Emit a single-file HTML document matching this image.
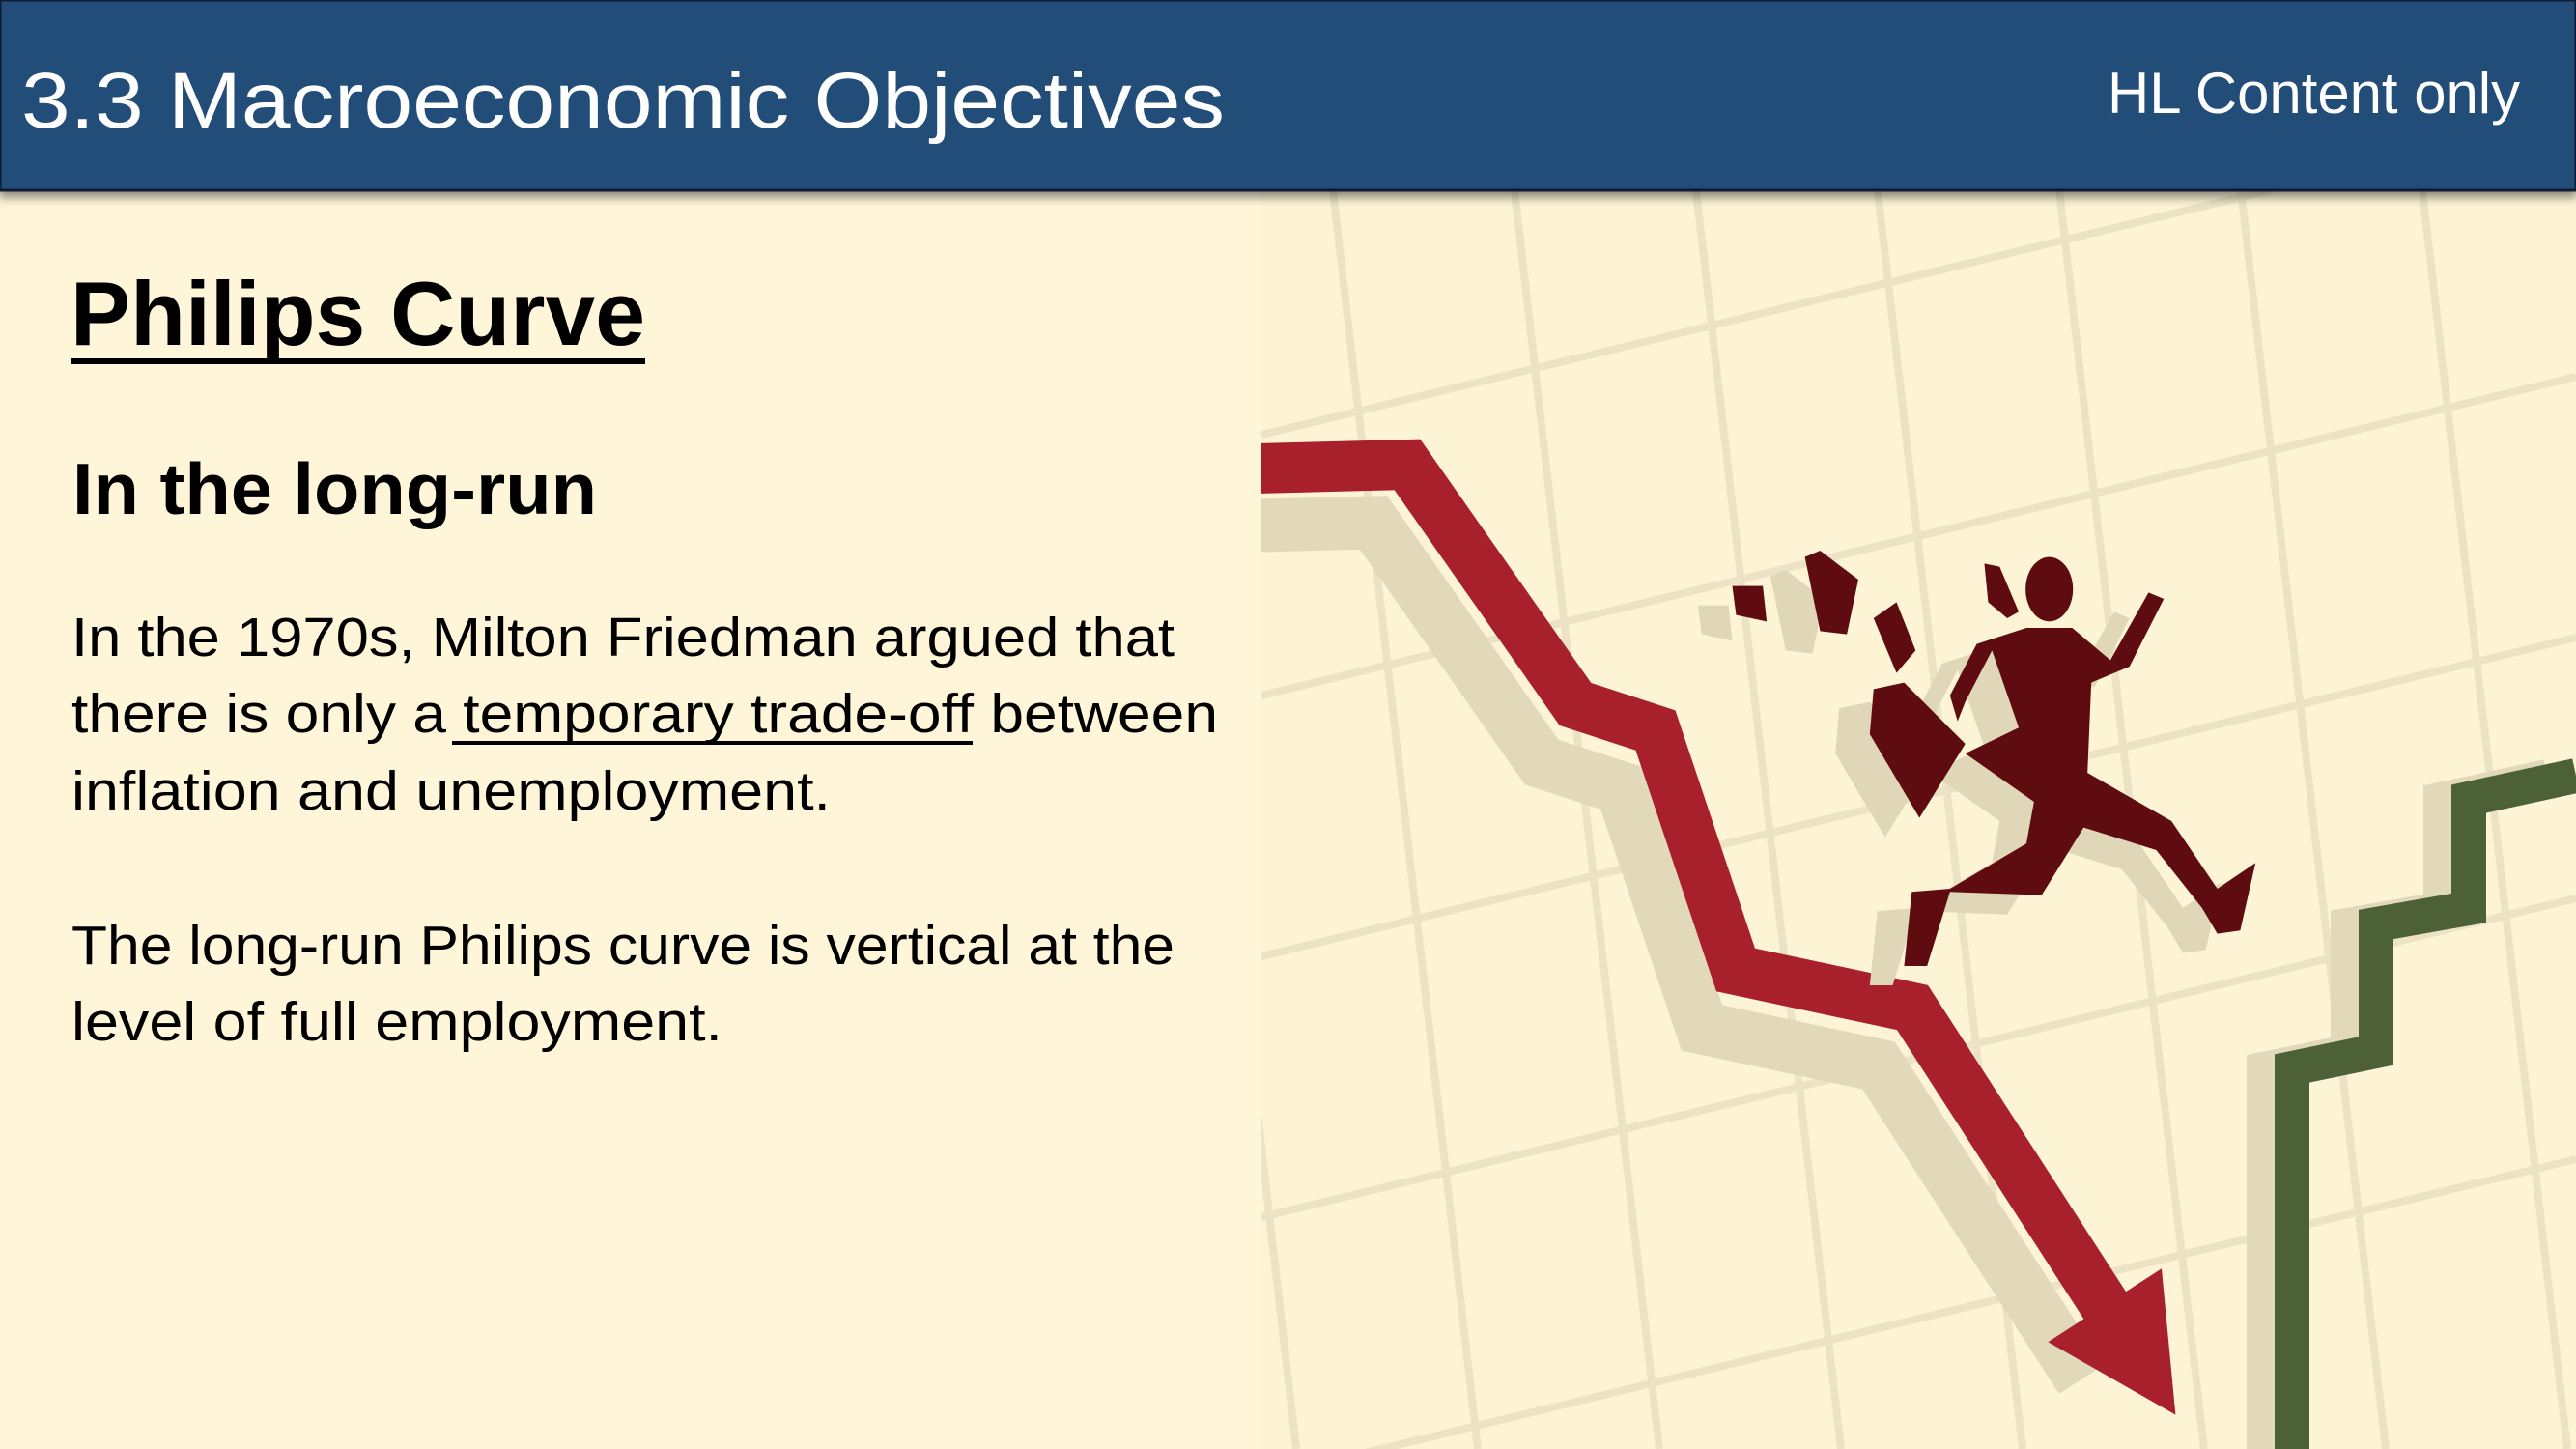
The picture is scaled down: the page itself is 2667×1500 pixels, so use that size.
<!DOCTYPE html>
<html><head><meta charset="utf-8"><style>
html,body{margin:0;padding:0;width:2667px;height:1500px;overflow:hidden;background:#fff5d9;position:relative;}
svg{display:block;position:absolute;left:0;top:0;}
text{font-family:"Liberation Sans",sans-serif;}
</style></head><body>
<svg width="2667" height="1500" viewBox="0 0 2667 1500" overflow="hidden">
<defs>
<filter id="sh" x="-5%" y="-20%" width="110%" height="160%"><feDropShadow dx="0" dy="6" stdDeviation="5" flood-color="#000" flood-opacity="0.45"/></filter>
<clipPath id="pc"><rect x="1306" y="197" width="1361" height="1303"/></clipPath>
</defs>
<rect x="0" y="0" width="2667" height="1500" fill="#fff5d9"/>

<g clip-path="url(#pc)">
<rect x="1306" y="197" width="1361" height="1303" fill="#fdf4d6"/>
<g id="grid"></g>
<g id="lines"></g>
<g transform="translate(1750,540) scale(0.3954,0.3333)">
<g fill="#e0d6b8" transform="translate(-90,60)">
<polygon points="880,330 1000,330 1100,430 1200,220 1240,240 1150,450 1050,500 1040,780 1260,930 1380,1140 1480,1060 1440,1270 1380,1280 1340,1200 1220,1020 1030,950 920,1160 680,1150 620,1380 560,1380 580,1150 680,1140 880,1000 900,870 720,720 860,640 790,400 720,560 700,620 680,540 750,380"/>
<polygon points="480,520 560,500 720,690 600,920 470,660"/>
<polygon points="110,200 190,200 200,310 120,290"/><polygon points="300,110 340,90 440,180 410,350 340,340"/>
</g>
<g fill="#5e0c0f">
<ellipse cx="940" cy="210" rx="62" ry="100"/>
<polygon points="770,130 810,140 860,280 830,300 780,250"/>
<polygon points="880,330 1000,330 1100,430 1200,220 1240,240 1150,450 1050,500 1040,780 1260,930 1380,1140 1480,1060 1440,1270 1380,1280 1340,1200 1220,1020 1030,950 920,1160 680,1150 620,1380 560,1380 580,1150 680,1140 880,1000 900,870 720,720 860,640 790,400 720,560 700,620 680,540 750,380"/>
<polygon points="480,520 560,500 720,690 600,920 470,660"/>
<polygon points="110,200 190,200 200,310 120,290"/>
<polygon points="300,110 340,90 440,180 410,350 340,340"/>
<polygon points="480,300 540,250 590,400 540,470"/>
</g>
</g>
</g>

<rect x="0" y="0" width="2667" height="197" fill="#224e78" stroke="#0d1e30" stroke-width="3" filter="url(#sh)"/>
<text x="22" y="132" font-size="82" fill="#fff" textLength="1246" lengthAdjust="spacingAndGlyphs">3.3 Macroeconomic Objectives</text>
<text x="2182" y="117" font-size="60" fill="#fff" textLength="427" lengthAdjust="spacingAndGlyphs">HL Content only</text>

<text x="73" y="357" font-size="94" font-weight="bold" fill="#000" textLength="595" lengthAdjust="spacingAndGlyphs">Philips Curve</text>
<rect x="73" y="371" width="595" height="6" fill="#000"/>
<text x="75" y="532" font-size="75" font-weight="bold" fill="#000" textLength="543" lengthAdjust="spacingAndGlyphs">In the long-run</text>

<g font-size="57" fill="#000">
<text x="74" y="679" textLength="1142" lengthAdjust="spacingAndGlyphs">In the 1970s, Milton Friedman argued that</text>
<text x="74" y="758" textLength="1187" lengthAdjust="spacingAndGlyphs">there is only a temporary trade-off between</text>
<text x="74" y="838" textLength="786" lengthAdjust="spacingAndGlyphs">inflation and unemployment.</text>
<text x="74" y="998" textLength="1142" lengthAdjust="spacingAndGlyphs">The long-run Philips curve is vertical at the</text>
<text x="74" y="1077" textLength="674" lengthAdjust="spacingAndGlyphs">level of full employment.</text>
</g>
<rect x="468" y="767" width="539" height="4" fill="#000"/>
</svg>
<script>
const redX=[1300,1457,1631,1714,1797,1980,2190];
const redY=[485,481,729,756,1004,1043,1368];
const greenX=[2373,2373,2460,2460,2556,2556,2667];
const greenY=[1500,1106,1088,957,940,827,803];
const NS="http://www.w3.org/2000/svg";
const grid=document.getElementById('grid');
for(let i=-1;i<7;i++){
  const x0=1380+i*188;
  const l=document.createElementNS(NS,'line');
  l.setAttribute('x1',x0);l.setAttribute('y1',197);l.setAttribute('x2',x0+150);l.setAttribute('y2',1500);
  l.setAttribute('stroke','#ece3c6');l.setAttribute('stroke-width','8');
  
  
  grid.appendChild(l);
}
for(let i=0;i<5;i++){
  const y0=450+i*270;
  const l=document.createElementNS(NS,'line');
  l.setAttribute('x1',1306);l.setAttribute('y1',y0);l.setAttribute('x2',2667);l.setAttribute('y2',y0-330);
  l.setAttribute('stroke','#ece3c6');l.setAttribute('stroke-width','8');
  
  
  grid.appendChild(l);
}
const g=document.getElementById('lines');
function pts(xs,ys,dx,dy){return xs.map((x,i)=>(x+dx)+','+(ys[i]+dy)).join(' ');}
function poly(xs,ys,dx,dy,col,w,name){
  const p=document.createElementNS(NS,'polyline');
  p.setAttribute('points',pts(xs,ys,dx,dy));
  p.setAttribute('fill','none');p.setAttribute('stroke',col);p.setAttribute('stroke-width',w);
  p.setAttribute('stroke-linejoin','miter');
  
  
  g.appendChild(p);
}
poly(redX,redY,-35,60,'#e2d8ba',55,'red-line-shadow');
poly(greenX,greenY,-30,0,'#e2d8ba',34,'green-line-shadow');
poly(redX,redY,0,0,'#a8212a',52,'falling-red-line');
poly(greenX,greenY,0,0,'#4c6138',36,'rising-green-line');
const n=redX.length-1;
const ax=redX[n],ay=redY[n],bx=redX[n-1],by=redY[n-1];
const dx=ax-bx,dy=ay-by,L=Math.hypot(dx,dy),ux=dx/L,uy=dy/L;
const tipX=ax+ux*115,tipY=ay+uy*115,px=-uy,py=ux;
const head=document.createElementNS(NS,'polygon');
head.setAttribute('points',`${tipX},${tipY} ${ax+px*70-ux*20},${ay+py*70-uy*20} ${ax-px*70-ux*20},${ay-py*70-uy*20}`);
head.setAttribute('fill','#a8212a');


g.appendChild(head);
</script>
</body></html>
